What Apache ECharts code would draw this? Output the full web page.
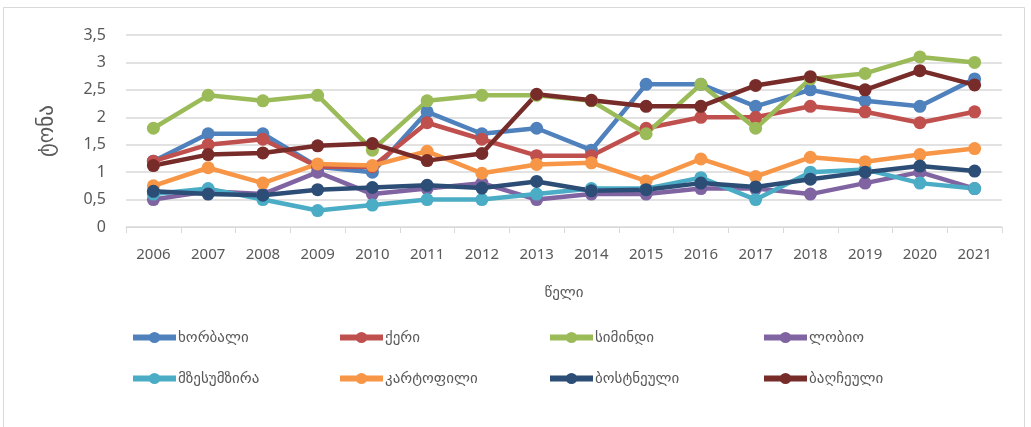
<!DOCTYPE html>
<html>
<head>
<meta charset="utf-8">
<script src="https://cdn.jsdelivr.net/npm/echarts@6/dist/echarts.min.js"></script>
<style>
  html, body { margin: 0; padding: 0; background: #fff; }
  #chart { width: 1031px; height: 427px; }
</style>
</head>
<body>
<div id="chart"></div>
<script>
// წლები
var years = ['2006', '2007', '2008', '2009', '2010', '2011', '2012', '2013',
             '2014', '2015', '2016', '2017', '2018', '2019', '2020', '2021'];

var wheat = [1.2, 1.7, 1.7, 1.1, 1.0, 2.1, 1.7, 1.8, 1.4, 2.6, 2.6, 2.2, 2.5, 2.3, 2.2, 2.7];
var barley = [1.2, 1.5, 1.6, 1.1, 1.1, 1.9, 1.6, 1.3, 1.3, 1.8, 2.0, 2.0, 2.2, 2.1, 1.9, 2.1];
var maize = [1.8, 2.4, 2.3, 2.4, 1.4, 2.3, 2.4, 2.4, 2.3, 1.7, 2.6, 1.8, 2.7, 2.8, 3.1, 3.0];
var beans = [0.5, 0.65, 0.6, 1.0, 0.6, 0.7, 0.8, 0.5, 0.6, 0.6, 0.7, 0.7, 0.6, 0.8, 1.0, 0.7];
var sunflower = [0.6, 0.7, 0.5, 0.3, 0.4, 0.5, 0.5, 0.6, 0.7, 0.7, 0.9, 0.5, 1.0, 1.05, 0.8, 0.7];
var potato = [0.75, 1.08, 0.8, 1.15, 1.12, 1.38, 0.98, 1.14, 1.17, 0.84, 1.24, 0.92, 1.27, 1.19, 1.32, 1.43];
var vegetables = [0.65, 0.6, 0.58, 0.68, 0.72, 0.76, 0.71, 0.83, 0.66, 0.68, 0.8, 0.73, 0.87, 1.0, 1.11, 1.02];
var melons = [1.12, 1.32, 1.35, 1.48, 1.52, 1.21, 1.34, 2.42, 2.31, 2.2, 2.2, 2.58, 2.74, 2.5, 2.85, 2.59];

var names = ['ხორბალი', 'ქერი', 'სიმინდი', 'ლობიო', 'მზესუმზირა', 'კარტოფილი', 'ბოსტნეული', 'ბაღჩეული'];
var colors = ['#4F81BD', '#C0504D', '#9BBB59', '#8064A2', '#4BACC6', '#F79646', '#2C4D75', '#772C2A'];
var values = [wheat, barley, maize, beans, sunflower, potato, vegetables, melons];

var font = 'Noto Sans, DejaVu Sans, sans-serif';

var series = [];
names.forEach(function (n, i) {
    series.push({
        name: n,
        type: 'line',
        data: values[i],
        symbol: 'circle',
        symbolSize: 13,
        lineStyle: { width: 4.5, color: colors[i] },
        itemStyle: { color: colors[i] },
        emphasis: { disabled: true }
    });
});

// one legend per item so the columns line up like in Excel
var legendLeft = [125, 332, 542, 756];
var legends = [];
names.forEach(function (n, i) {
    legends.push({
        left: legendLeft[i % 4],
        top: i < 4 ? 325 : 366,
        data: [n],
        itemWidth: 43,
        itemHeight: 14,
        selectedMode: false,
        lineStyle: { width: 6 },
        textStyle: { fontFamily: font, fontSize: 15, color: '#595959', padding: [0, 0, 0, -3] }
    });
});

var chart = echarts.init(document.getElementById('chart'));
chart.setOption({
    animation: false,
    color: colors,
    grid: { left: 126, right: 29, top: 35, bottom: 200, containLabel: false },
    legend: legends,
    xAxis: {
        type: 'category',
        data: years,
        boundaryGap: true,
        name: 'წელი',
        nameLocation: 'middle',
        nameGap: 58,
        nameTextStyle: { fontFamily: font, fontSize: 15, color: '#595959' },
        axisLine: { lineStyle: { color: '#d9d9d9', width: 1 } },
        axisTick: { show: true, length: 6, lineStyle: { color: '#d9d9d9' } },
        axisLabel: { fontFamily: font, fontSize: 15, color: '#595959', margin: 20, interval: 0 }
    },
    yAxis: {
        type: 'value',
        min: 0,
        max: 3.5,
        interval: 0.5,
        name: 'ტონა',
        nameLocation: 'middle',
        nameRotate: 90,
        nameGap: 68,
        nameTextStyle: { fontFamily: font, fontSize: 21, color: '#595959' },
        axisLine: { show: false },
        axisTick: { show: false },
        splitLine: { lineStyle: { color: '#d9d9d9', width: 1.5 } },
        axisLabel: {
            fontFamily: font, fontSize: 16, color: '#595959', margin: 20,
            formatter: function (v) { return String(v).replace('.', ','); }
        }
    },
    graphic: [{
        type: 'rect',
        shape: { x: 3.5, y: 7.5, width: 1021, height: 425 },
        style: { fill: 'none', stroke: '#d9d9d9', lineWidth: 1 },
        silent: true
    }],
    series: series
});
</script>
</body>
</html>
